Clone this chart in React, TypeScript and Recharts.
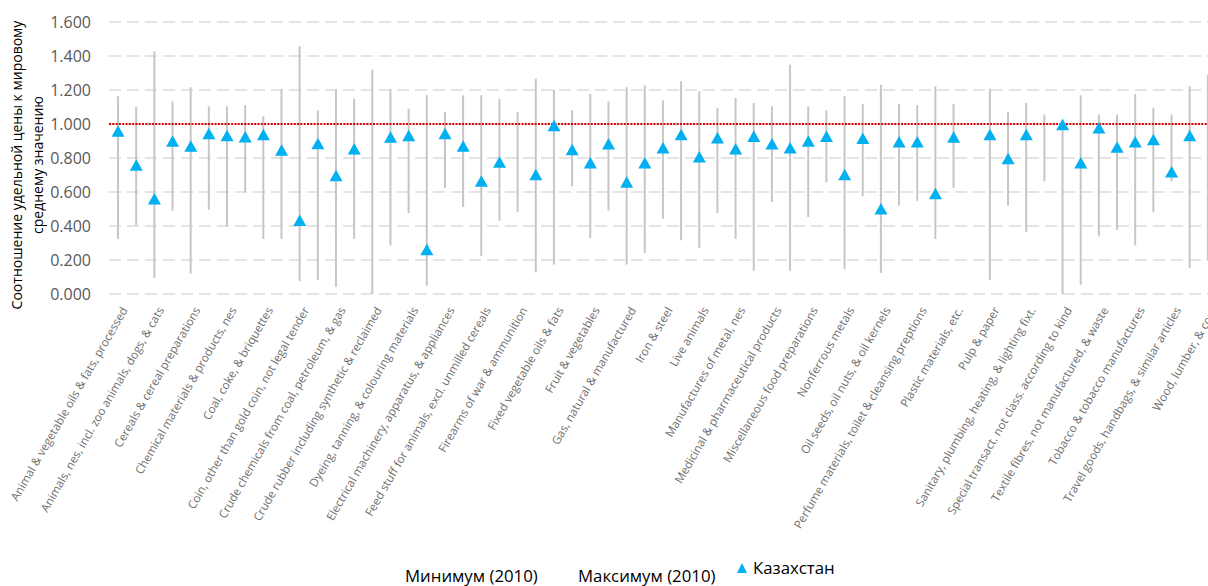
import { Bar, CartesianGrid, ComposedChart, ReferenceLine, Scatter, XAxis, YAxis, Label } from "recharts";

// SITC product groups (only every other one is labelled on the axis)
const categories = [
  "Animal & vegetable oils & fats, processed",
  "Animal oils & fats",
  "Animals, nes, incl. zoo animals, dogs, & cats",
  "Beverages",
  "Cereals & cereal preparations",
  "Chemical elements & compounds",
  "Chemical materials & products, nes",
  "Clothing",
  "Coal, coke, & briquettes",
  "Coffee, tea, cocoa, & spices",
  "Coin, other than gold coin, not legal tender",
  "Crude animal & vegetable materials, nes",
  "Crude chemicals from coal, petroleum, & gas",
  "Crude fertilizers & crude minerals",
  "Crude rubber including synthetic & reclaimed",
  "Dairy products & bird eggs",
  "Dyeing, tanning, & colouring materials",
  "Electric energy",
  "Electrical machinery, apparatus, & appliances",
  "Explosives & pyrotechnic products",
  "Feed stuff for animals, excl. unmilled cereals",
  "Fertilizers, manufactured",
  "Firearms of war & ammunition",
  "Fish & fish preparations",
  "Fixed vegetable oils & fats",
  "Footwear",
  "Fruit & vegetables",
  "Furniture",
  "Gas, natural & manufactured",
  "Hides, skins, & furskins, undressed",
  "Iron & steel",
  "Leather, leather manufactures, nes",
  "Live animals",
  "Machinery, other than electric",
  "Manufactures of metal, nes",
  "Meat & meat preparations",
  "Medicinal & pharmaceutical products",
  "Metalliferous ores & metal scrap",
  "Miscellaneous food preparations",
  "Miscellaneous manufactured articles, nes",
  "Nonferrous metals",
  "Non-metallic mineral manufactures, nes",
  "Oil seeds, oil nuts, & oil kernels",
  "Paper, paperboard, & manufactures thereof",
  "Perfume materials, toilet & cleansing preptions",
  "Petroleum & petroleum products",
  "Plastic materials, etc.",
  "Postal packages not class. according to kind",
  "Pulp & paper",
  "Rubber manufactures, nes",
  "Sanitary, plumbing, heating, & lighting fixt.",
  "Scientific & controlling instruments",
  "Special transact. not class. according to kind",
  "Sugar, sugar preparations, & honey",
  "Textile fibres, not manufactured, & waste",
  "Textile yarn, fabrics, made up articles",
  "Tobacco & tobacco manufactures",
  "Transport equipment",
  "Travel goods, handbags, & similar articles",
  "Wood & cork manufactures excl. furniture",
  "Wood, lumber, & cork",
];

const minimum2010 = [
  0.324, 0.404, 0.094, 0.49, 0.12, 0.496, 0.398, 0.598, 0.324, 0.324,
  0.075, 0.084, 0.041, 0.324, 0.0, 0.286, 0.476, 0.049, 0.624, 0.512,
  0.225, 0.431, 0.482, 0.127, 0.173, 0.633, 0.329, 0.49, 0.173, 0.241,
  0.443, 0.316, 0.271, 0.476, 0.324, 0.137, 0.541, 0.137, 0.453, 0.657,
  0.147, 0.575, 0.124, 0.52, 0.549, 0.324, 0.624, null, 0.084, 0.52,
  0.363, 0.663, 0.0, 0.055, 0.339, 0.378, 0.286, 0.482, 0.663, 0.153,
  0.2,
];

const maximum2010 = [
  1.163, 1.1, 1.427, 1.133, 1.216, 1.104, 1.104, 1.11, 1.045, 1.206,
  1.457, 1.08, 1.202, 1.149, 1.32, 1.206, 1.09, 1.169, 1.071, 1.169,
  1.169, 1.147, 1.071, 1.267, 1.202, 1.08, 1.176, 1.133, 1.216, 1.227,
  1.139, 1.251, 1.192, 1.094, 1.153, 1.124, 1.104, 1.349, 1.104, 1.08,
  1.163, 1.118, 1.231, 1.118, 1.11, 1.222, 1.118, null, 1.208, 1.071,
  1.124, 1.055, 1.0, 1.169, 1.055, 1.055, 1.176, 1.094, 1.055, 1.222,
  1.29,
];

const kazakhstan = [
  0.957, 0.757, 0.559, 0.898, 0.869, 0.943, 0.931, 0.924, 0.937, 0.845,
  0.433, 0.884, 0.696, 0.853, null, 0.922, 0.931, 0.261, 0.943, 0.869,
  0.663, 0.775, null, 0.702, 0.99, 0.849, 0.771, 0.882, 0.657, 0.771,
  0.859, 0.937, 0.806, 0.918, 0.853, 0.927, 0.882, 0.859, 0.898, 0.927,
  0.702, 0.914, 0.5, 0.894, 0.894, 0.59, 0.922, null, 0.937, 0.796,
  0.937, null, 0.996, 0.771, 0.976, 0.863, 0.894, 0.908, 0.718, 0.931,
  null,
];

const yTicks = [0, 0.2, 0.4, 0.6, 0.8, 1.0, 1.2, 1.4, 1.6];

const data = categories.map((name, i) => ({
  name,
  range: minimum2010[i] == null || maximum2010[i] == null ? null : [minimum2010[i], maximum2010[i]],
  kz: kazakhstan[i],
}));

const FONT = "'Open Sans', sans-serif";

function XTick(props: any) {
  const { x, y, payload } = props;
  return (
    <text
      transform={`translate(${x + 10},${y + 8}) rotate(-60)`}
      textAnchor="end"
      fontSize={11.6}
      fontFamily={FONT}
      fill="#6f6f6f"
    >
      {payload.value}
    </text>
  );
}

function Triangle(props: any) {
  const { cx, cy, payload } = props;
  if (payload == null || payload.kz == null || !Number.isFinite(cy)) return null;
  return (
    <polygon
      points={`${cx},${cy - 6} ${cx - 6.5},${cy + 5.5} ${cx + 6.5},${cy + 5.5}`}
      fill="#00b0f0"
    />
  );
}

function AxisTitle() {
  return (
    <text transform="translate(22,165) rotate(-90)" textAnchor="middle" fontSize={14} fontFamily={FONT} fill="#000">
      <tspan x={0} dy={0}>Соотношение удельной цены к мировому</tspan>
      <tspan x={0} dy={20.5}>среднему значению</tspan>
    </text>
  );
}

export default function App() {
  return (
    <div style={{ position: "fixed", left: 0, top: 0, width: 1208, height: 586, overflow: "hidden", background: "#fff" }}>
      <ComposedChart
        width={1222}
        height={586}
        data={data}
        margin={{ top: 22, right: 5, bottom: 32, left: 9 }}
      >
        <CartesianGrid vertical={false} stroke="#dcdcdc" strokeWidth={1.5} strokeDasharray="12 6" />
        <XAxis
          dataKey="name"
          interval={1}
          tickLine={false}
          axisLine={false}
          height={260}
          tick={<XTick />}
        />
        <YAxis
          domain={[0, 1.6]}
          ticks={yTicks}
          width={100}
          tickLine={false}
          axisLine={false}
          tickMargin={12}
          tickFormatter={(v: number) => v.toFixed(3)}
          tick={{ fill: "#595959", fontSize: 16, fontFamily: FONT }}
        >
          <Label content={<AxisTitle />} />
        </YAxis>
        <ReferenceLine y={1} stroke="#d90000" strokeWidth={2} strokeDasharray="2 1.3" />
        <Bar dataKey="range" barSize={2} fill="#c6c6c6" isAnimationActive={false} />
        <Scatter dataKey="kz" shape={<Triangle />} isAnimationActive={false} />
      </ComposedChart>
      <div style={{ position: "absolute", top: 567, left: 0, width: 1208, height: 18, fontFamily: FONT, fontSize: 16.8, lineHeight: "18px", color: "#000" }}>
        <span style={{ position: "absolute", left: 405, top: 0 }}>Минимум (2010)</span>
        <span style={{ position: "absolute", left: 578, top: 0 }}>Максимум (2010)</span>
        <span style={{ position: "absolute", left: 736, top: -8, display: "flex", alignItems: "center" }}>
          <svg width={14} height={12} style={{ marginRight: 3 }}>
            <polygon points="6,1 1,11 11,11" fill="#00b0f0" />
          </svg>
          Казахстан
        </span>
      </div>
    </div>
  );
}
